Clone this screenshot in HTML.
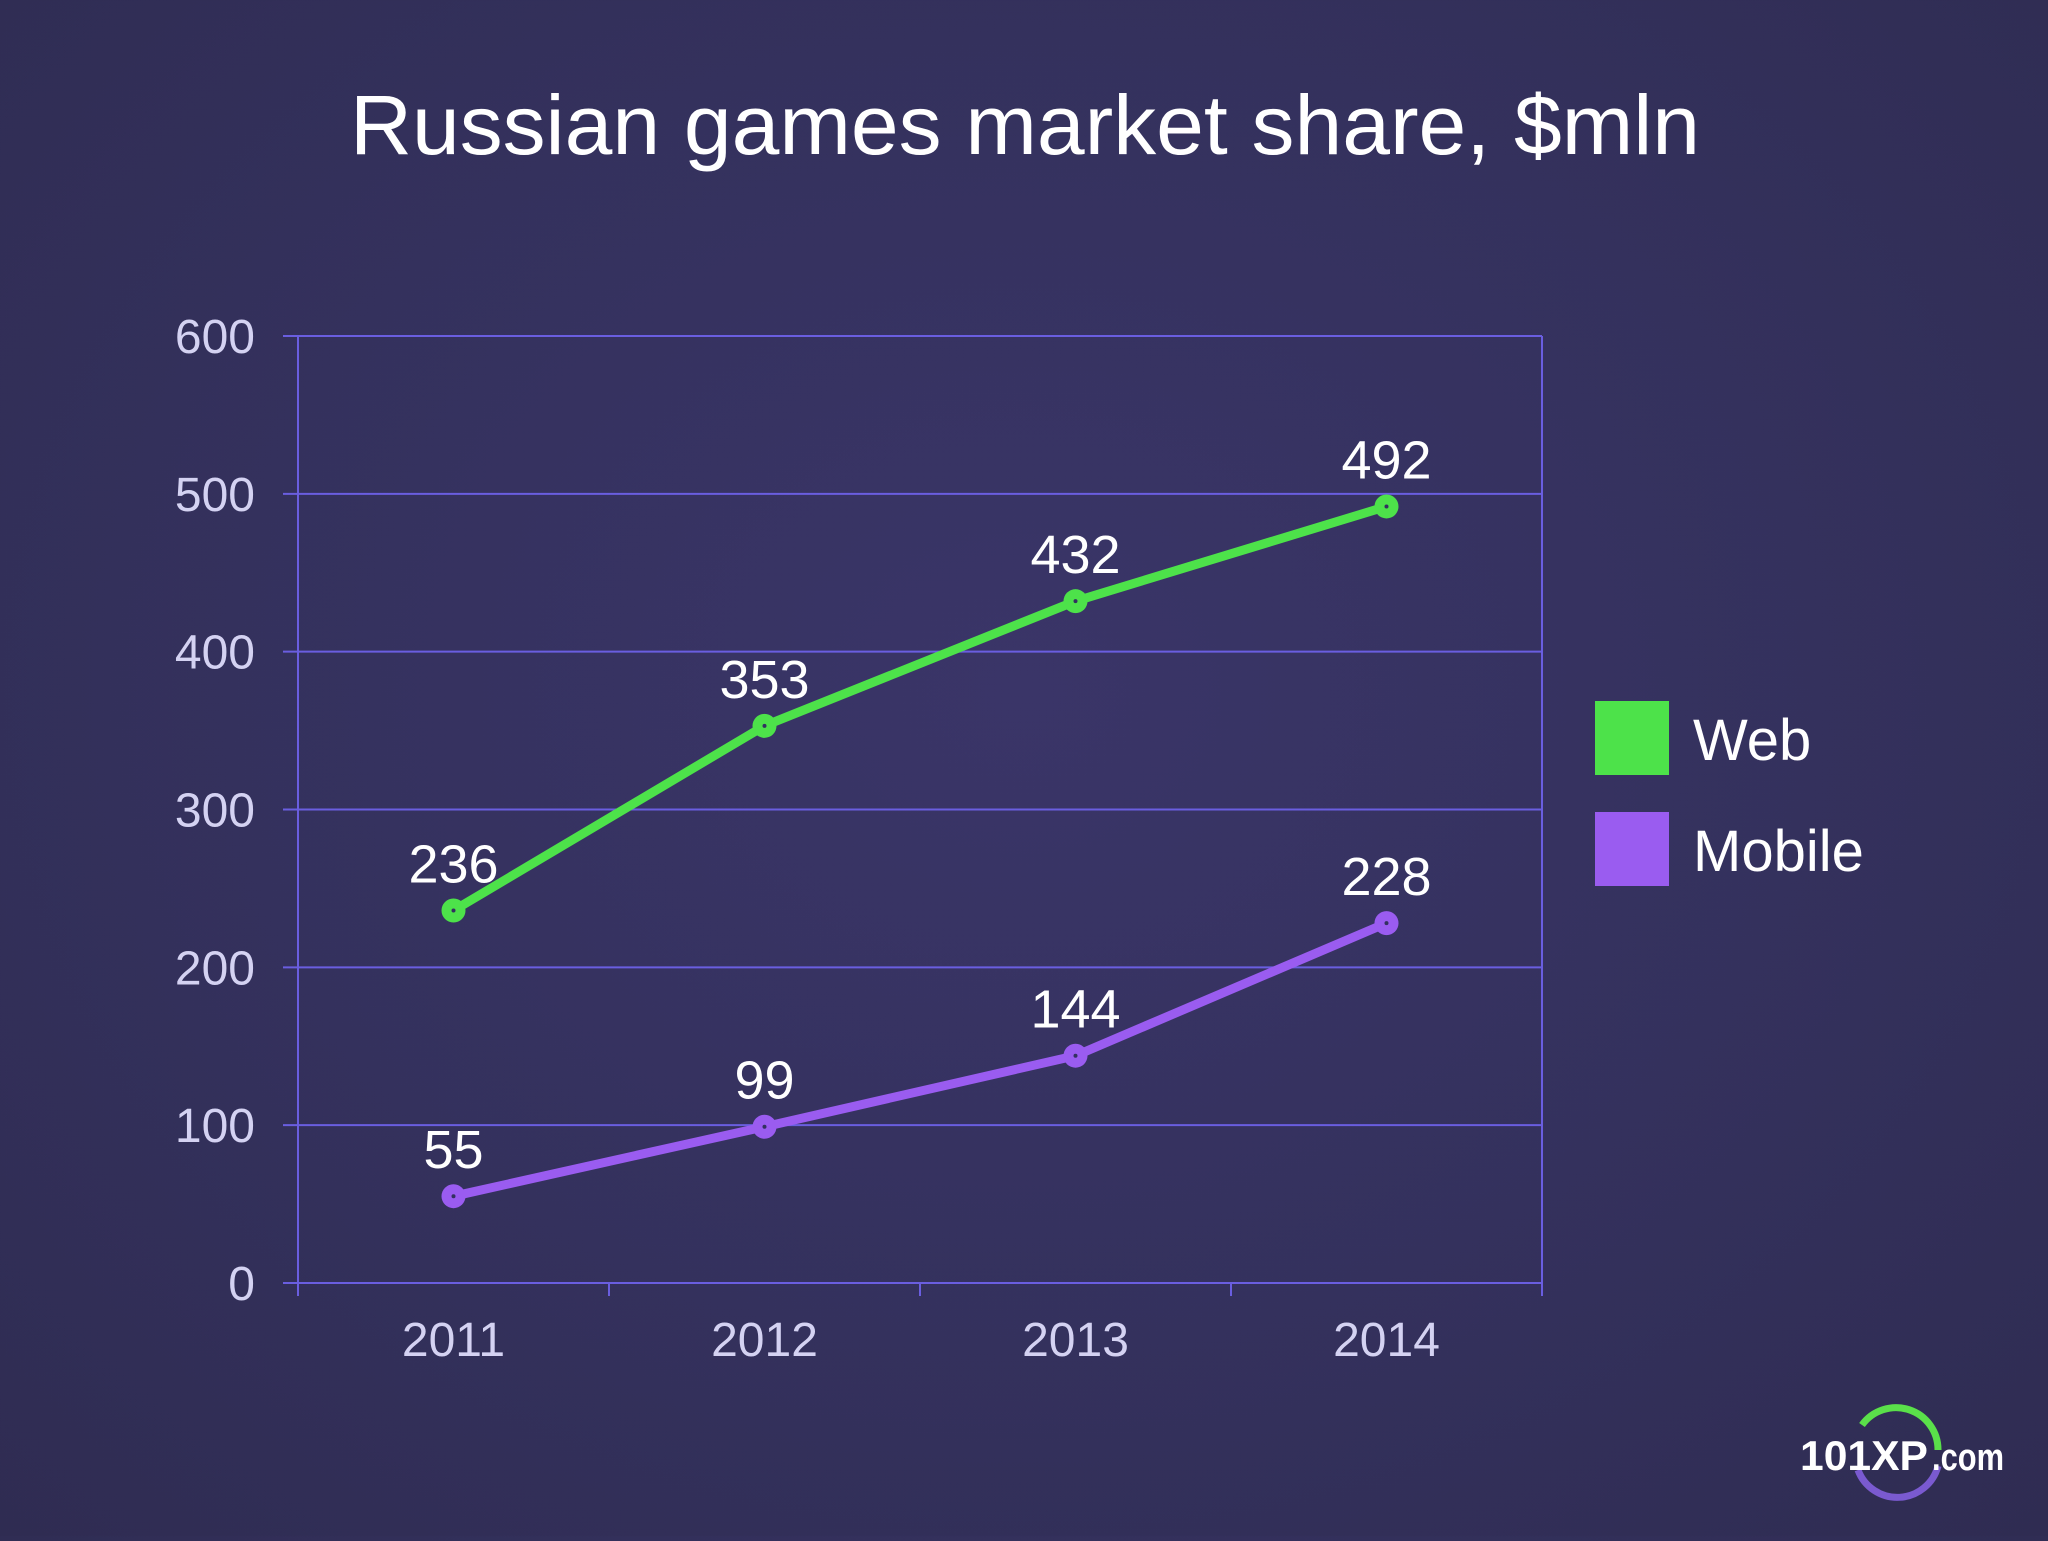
<!DOCTYPE html>
<html><head><meta charset="utf-8">
<style>
html,body{margin:0;padding:0;}
body{width:2048px;height:1536px;overflow:hidden;background:radial-gradient(ellipse at 50% 45%,#3a3568 0%,#34315d 55%,#2f2c52 100%);font-family:"Liberation Sans",sans-serif;}
</style></head>
<body>
<svg id="chart" width="2048" height="1536" xmlns="http://www.w3.org/2000/svg">
<text x="1025" y="154" text-anchor="middle" font-family="Liberation Sans, sans-serif" font-size="84" fill="#ffffff" textLength="1350" lengthAdjust="spacingAndGlyphs">Russian games market share, $mln</text>
<g id="grid"></g>
<g id="series"></g>
<g>
<rect x="1595" y="701" width="74" height="74" fill="#4de24a"/>
<text x="1693" y="760" font-size="58" fill="#ffffff">Web</text>
<rect x="1595" y="812" width="74" height="74" fill="#9a5cf0"/>
<text x="1693" y="871" font-size="58" fill="#ffffff">Mobile</text>
</g>
<g>
<path d="M1862 1425 A42 42 0 0 1 1938 1450" fill="none" stroke="#5ae04a" stroke-width="7"/>
<path d="M1938 1466 A42 42 0 0 1 1858 1470" fill="none" stroke="#7a5ad0" stroke-width="7"/>
<text x="1800" y="1470" font-size="42" font-weight="bold" fill="#ffffff" textLength="128" lengthAdjust="spacingAndGlyphs">101XP</text>
<text x="1932" y="1470" font-size="38" font-weight="bold" fill="#ffffff" textLength="72" lengthAdjust="spacingAndGlyphs">.com</text>
</g>
</svg>
<script>
const categories=["2011","2012","2013","2014"];
const webValues=[236,353,432,492];
const mobileValues=[55,99,144,228];
const yTicks=[0,100,200,300,400,500,600];
const NS="http://www.w3.org/2000/svg";
const L=298,R=1542,T=336,B=1283,yMax=600;
const band=(R-L)/categories.length;
function x(i){return L+band*(i+0.5);}
function y(v){return B-(v/yMax)*(B-T);}
function mk(tag,attrs,parent){const e=document.createElementNS(NS,tag);for(const k in attrs)e.setAttribute(k,attrs[k]);parent.appendChild(e);return e;}
const grid=document.getElementById('grid');
yTicks.forEach(v=>{
  const ln=mk('line',{x1:283,x2:R,y1:y(v),y2:y(v),stroke:'#6a5ee0','stroke-width':2},grid);
  
  
  const t=mk('text',{x:255,y:y(v)+17,'text-anchor':'end','font-size':48,fill:'#d4d2f2'},grid);
  t.textContent=v;
  
  
});
const ax=mk('line',{x1:L,x2:L,y1:T,y2:B,stroke:'#6a5ee0','stroke-width':2},grid);


const ax2=mk('line',{x1:R,x2:R,y1:T,y2:B+13,stroke:'#6a5ee0','stroke-width':2},grid);


for(let i=0;i<=categories.length;i++){
  const tk=mk('line',{x1:L+band*i,x2:L+band*i,y1:B,y2:B+13,stroke:'#6a5ee0','stroke-width':2},grid);
  
  
}
categories.forEach((c,i)=>{
  const t=mk('text',{x:x(i),y:1356,'text-anchor':'middle','font-size':48,fill:'#d4d2f2'},grid);
  t.textContent=c;
  
  
});
const ser=document.getElementById('series');
function draw(vals,color,name){
  const pl=mk('polyline',{points:vals.map((v,i)=>x(i)+','+y(v)).join(' '),fill:'none',stroke:color,'stroke-width':9,'stroke-linejoin':'round'},ser);
  
  
  vals.forEach((v,i)=>{
    const c=mk('circle',{cx:x(i),cy:y(v),r:12,fill:color},ser);
    
    
    mk('circle',{cx:x(i),cy:y(v),r:2,fill:'#333060'},ser);
    const t=mk('text',{x:x(i),y:y(v)-28,'text-anchor':'middle','font-size':54,fill:'#ffffff'},ser);
    t.textContent=v;
    
    
  });
}
draw(webValues,'#4de24a','web');
draw(mobileValues,'#9a5cf0','mobile');
</script>
</body></html>
